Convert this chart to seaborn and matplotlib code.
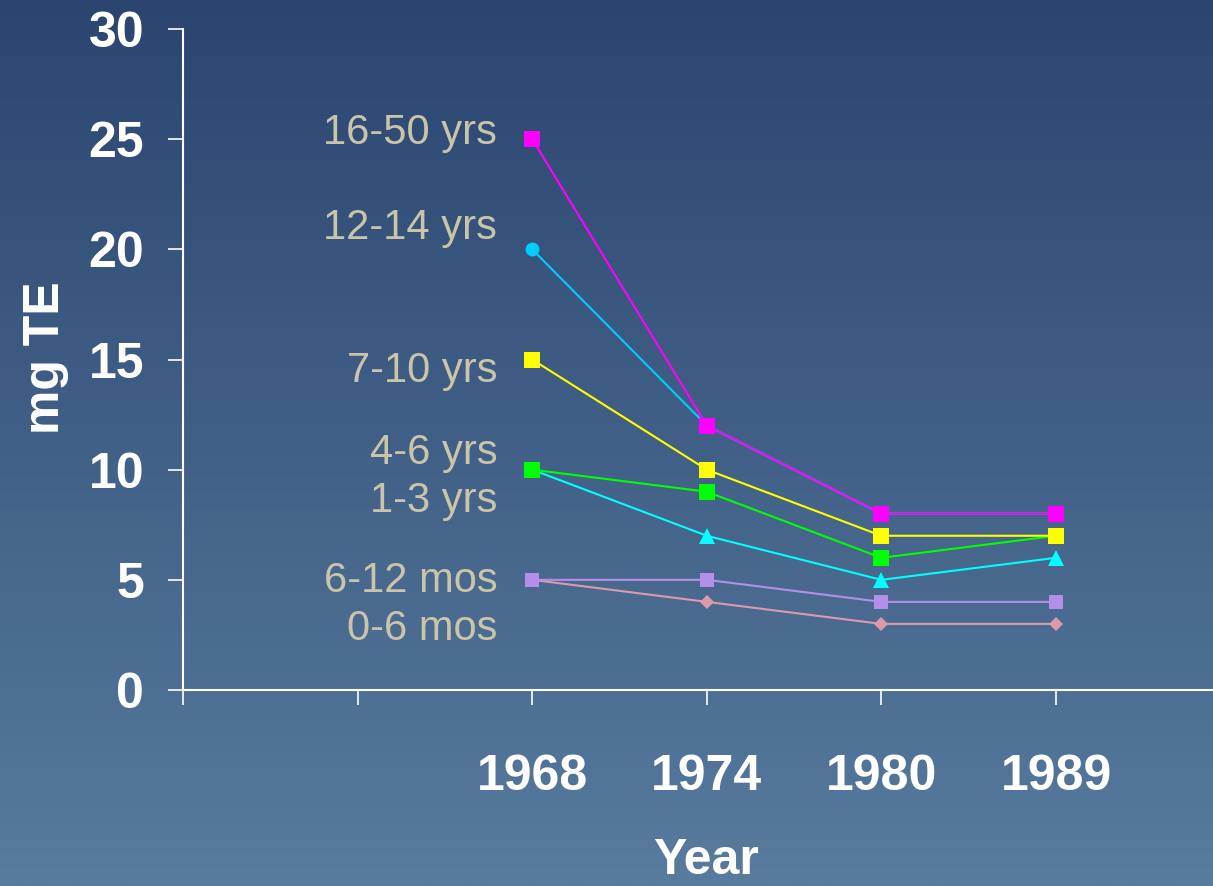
import numpy as np
import pandas as pd
import matplotlib
matplotlib.use("Agg")
import matplotlib.pyplot as plt
import seaborn as sns

# ---- data -------------------------------------------------------------
years = ["1968", "1974", "1980", "1989"]
groups = ["0-6 mos", "6-12 mos", "1-3 yrs", "4-6 yrs", "7-10 yrs", "12-14 yrs", "16-50 yrs"]
mos_0_6 = [5, 4, 3, 3]
mos_6_12 = [5, 5, 4, 4]
yrs_1_3 = [10, 7, 5, 6]
yrs_4_6 = [10, 9, 6, 7]
yrs_7_10 = [15, 10, 7, 7]
yrs_12_14 = [20, 12, 8, 8]
yrs_16_50 = [25, 12, 8, 8]
y_ticks = [0, 5, 10, 15, 20, 25, 30]

series = [mos_0_6, mos_6_12, yrs_1_3, yrs_4_6, yrs_7_10, yrs_12_14, yrs_16_50]

# ---- styling ----------------------------------------------------------
colors = {
    "0-6 mos": "#dc9aac",
    "6-12 mos": "#b48fe8",
    "1-3 yrs": "#00ffff",
    "4-6 yrs": "#00ff00",
    "7-10 yrs": "#ffff00",
    "12-14 yrs": "#00ccff",
    "16-50 yrs": "#ff00ff",
}
markers = {
    "0-6 mos": ("D", 7.5),
    "6-12 mos": ("s", 10.0),
    "1-3 yrs": ("^", 11.0),
    "4-6 yrs": ("s", 12.0),
    "7-10 yrs": ("s", 12.0),
    "12-14 yrs": ("o", 10.0),
    "16-50 yrs": ("s", 12.0),
}
# baseline height (data units) of each group's name, left of the first year
label_y = {
    "16-50 yrs": 24.76,
    "12-14 yrs": 20.45,
    "7-10 yrs": 13.96,
    "4-6 yrs": 10.26,
    "1-3 yrs": 8.08,
    "6-12 mos": 4.45,
    "0-6 mos": 2.27,
}

sns.set_style("ticks")
plt.rcParams["font.family"] = ["Liberation Sans", "DejaVu Sans"]

W, H = 1213, 886
fig = plt.figure(figsize=(W / 100, H / 100), dpi=100)

# vertical blue gradient background
bg = fig.add_axes([0, 0, 1, 1], zorder=0)
top = np.array([0x2b, 0x45, 0x70]) / 255
bottom = np.array([0x58, 0x7b, 0x9e]) / 255
t = np.linspace(0, 1, 256)[:, None]
grad = (top[None, :] * (1 - t) + bottom[None, :] * t)[:, None, :]
bg.imshow(grad, aspect="auto", extent=[0, 1, 0, 1], interpolation="bilinear")
bg.set_axis_off()

x0, x1 = 183, 1213
y0, y1 = 690, 29
ax = fig.add_axes([x0 / W, (H - y0) / H, (x1 - x0) / W, (y0 - y1) / H], zorder=1)
ax.set_facecolor("none")

# long-format table: the four survey years sit at positions 2..5
offset = 2
df = pd.DataFrame({
    "group": np.repeat(groups, len(years)),
    "year": years * len(groups),
    "pos": list(np.arange(len(years)) + offset) * len(groups),
    "value": np.concatenate(series),
})

for g in groups:
    sub = df[df["group"] == g]
    m, ms = markers[g]
    sns.lineplot(data=sub, x="pos", y="value", color=colors[g], marker=m,
                 markersize=ms, markeredgewidth=0, linewidth=1.5, ax=ax,
                 legend=False)

for g in groups:
    ax.text(1.80, label_y[g], g, ha="right", va="baseline", fontsize=30,
            color="#cac5a9")

ax.set_xlim(0, (x1 - x0) / 174.6)
ax.set_ylim(0, 30)
ax.set_yticks(y_ticks)
ax.set_yticklabels([str(v) for v in y_ticks])
ax.set_xticks(np.arange(len(years) + offset))
ax.set_xticklabels([""] * offset + years)

for side in ("top", "right"):
    ax.spines[side].set_visible(False)
for side in ("left", "bottom"):
    ax.spines[side].set_color("white")
    ax.spines[side].set_linewidth(1.5)

ax.tick_params(axis="both", colors="white", length=11, width=1.2,
               labelsize=36, labelcolor="white")
ax.tick_params(axis="y", pad=17)
ax.tick_params(axis="x", pad=35)
for lab in ax.get_xticklabels() + ax.get_yticklabels():
    lab.set_fontweight("bold")

ax.set_xlabel("")
ax.set_ylabel("")
fig.text(706 / W, (H - 874) / H, "Year", ha="center", va="baseline",
         fontsize=36, fontweight="bold", color="white")
fig.text(46 / W, (H - 358) / H, "mg TE", ha="center", va="center",
         rotation=90, fontsize=36, fontweight="bold", color="white")

fig.savefig("out.png", dpi=100)
